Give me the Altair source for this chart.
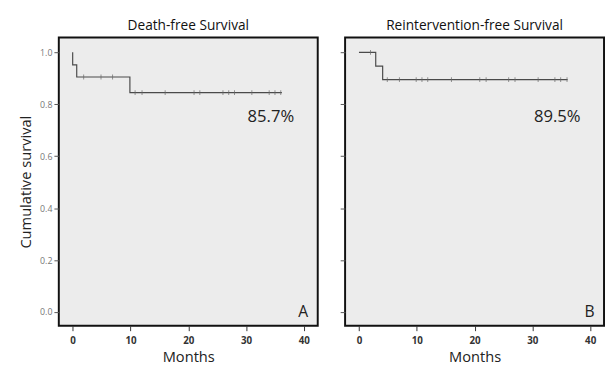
import altair as alt
import pandas as pd

# Kaplan-Meier step points
death_t = [0, 0, 0.7, 9.9, 36.2]
death_s = [1.0, 0.952, 0.905, 0.845, 0.845]
death_cens_t = [1.9, 4.9, 6.9, 10.8, 12.0, 16.0, 21.0, 22.0, 26.0, 27.0, 28.0, 31.0, 34.0, 35.0, 36.0]
death_cens_s = [0.905, 0.905, 0.905] + [0.845] * 12

reint_t = [0, 2.9, 4.1, 36.1]
reint_s = [1.0, 0.947, 0.895, 0.895]
reint_cens_t = [2.0, 4.9, 7.0, 9.9, 10.9, 11.9, 16.0, 20.9, 22.0, 25.9, 27.0, 31.0, 33.9, 34.9, 36.0]
reint_cens_s = [1.0] + [0.895] * 14

titles = ["Death-free Survival", "Reintervention-free Survival"]
pct_labels = ["85.7%", "89.5%"]
panel_letters = ["A", "B"]

x_ticks = [0, 10, 20, 30, 40]
y_ticks = [0.0, 0.2, 0.4, 0.6, 0.8, 1.0]

FONT = "Open Sans"
W, H = 265, 295

xscale = alt.Scale(domain=[-2.4, 42.4], nice=False, zero=False)
yscale = alt.Scale(domain=[-0.053, 1.057], nice=False, zero=False)


def panel(t, s, ct, cs, title, pct, letter, first):
    line_df = pd.DataFrame({"t": t, "s": s})
    cens_df = pd.DataFrame({"t": ct, "s": cs})
    ann_df = pd.DataFrame({"t": [34.3], "s": [0.752], "label": [pct]})
    let_df = pd.DataFrame({"t": [39.9], "s": [0.0], "label": [letter]})

    xaxis = alt.Axis(values=x_ticks, title="Months", grid=False, domain=False,
                     tickSize=5, tickColor="#333", labelFont=FONT, labelFontSize=10,
                     labelColor="#333", labelFontWeight="bold", titleFont=FONT,
                     titleFontSize=15, titleFontWeight="normal", titleColor="#222",
                     labelPadding=5, titlePadding=5)
    if first:
        yaxis = alt.Axis(values=y_ticks, format=".1f", title="Cumulative survival",
                         grid=False, domain=False, tickSize=5, tickColor="#555",
                         labelFont=FONT, labelFontSize=9, labelColor="#777",
                         titleFont=FONT, titleFontSize=15, titleFontWeight="normal",
                         titleColor="#222", labelPadding=2, titlePadding=6)
    else:
        yaxis = alt.Axis(values=y_ticks, labels=False, title=None, grid=False,
                         domain=False, tickSize=5, tickColor="#555")

    line = alt.Chart(line_df).mark_line(interpolate="step-after", color="#4a4a4a",
                                        strokeWidth=1.2).encode(
        x=alt.X("t:Q", scale=xscale, axis=xaxis),
        y=alt.Y("s:Q", scale=yscale, axis=yaxis),
    )
    cens = alt.Chart(cens_df).mark_tick(orient="vertical", size=5, thickness=1,
                                        color="#666").encode(
        x=alt.X("t:Q", scale=xscale),
        y=alt.Y("s:Q", scale=yscale),
    )
    ann = alt.Chart(ann_df).mark_text(font=FONT, fontSize=17, color="#222",
                                      align="center", baseline="middle").encode(
        x=alt.X("t:Q", scale=xscale), y=alt.Y("s:Q", scale=yscale), text="label:N")
    let = alt.Chart(let_df).mark_text(font=FONT, fontSize=16, color="#222",
                                      align="center", baseline="middle").encode(
        x=alt.X("t:Q", scale=xscale), y=alt.Y("s:Q", scale=yscale), text="label:N")

    return alt.layer(line, cens, ann, let).properties(
        width=W, height=H,
        title=alt.TitleParams(title, font=FONT, fontSize=14, fontWeight="normal",
                              color="#111", offset=5, anchor="middle"),
    )


left = panel(death_t, death_s, death_cens_t, death_cens_s, titles[0], pct_labels[0],
             panel_letters[0], True)
right = panel(reint_t, reint_s, reint_cens_t, reint_cens_s, titles[1], pct_labels[1],
              panel_letters[1], False)

chart = alt.hconcat(left, right, spacing=20).properties(
    padding={"left": 10, "top": 6, "right": 0, "bottom": 0},
    background="white",
).configure_view(
    fill="#ececec", stroke="#111", strokeWidth=2
)

chart.save("out.html", embed_options={"renderer": "svg", "actions": False})
